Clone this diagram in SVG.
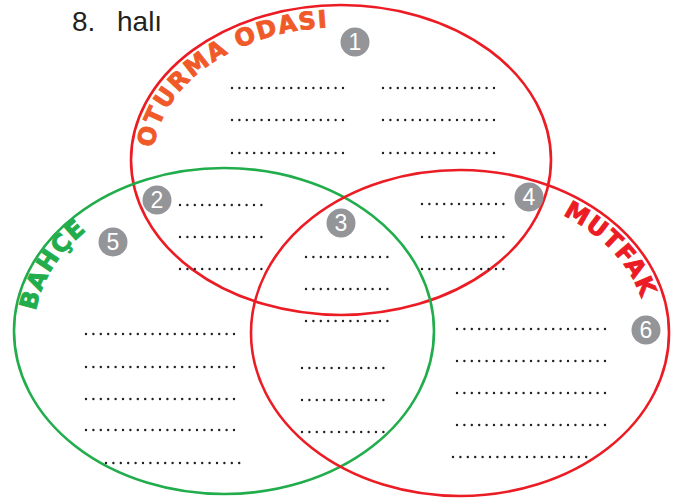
<svg xmlns="http://www.w3.org/2000/svg" width="680" height="501" viewBox="0 0 680 501">
<style>
.red{fill:none;stroke:#ec1c24;stroke-width:2.6}
.green{fill:none;stroke:#21ad4b;stroke-width:2.6}
.dots{stroke:#231f20;stroke-width:2.4;stroke-linecap:round;stroke-dasharray:0 7.4;fill:none}
.badge{fill:#939598}
.num{fill:#fff;font-family:"Liberation Sans",Arial,sans-serif;font-size:23px;text-anchor:middle}
.lbl{font-family:"DejaVu Sans","Liberation Sans",sans-serif;font-weight:bold;font-size:24px;stroke-width:0.9}
</style>
<defs>
<path id="pTop" d="M 153 160 A 188 133 0 0 1 529 160"/>
<path id="pLeft" d="M 34 331 A 190 145 0 0 1 414 331"/>
<path id="pRight" d="M 460 192 A 187 141 0 0 1 647 333"/>
</defs>
<rect width="680" height="501" fill="#fff"/>
<text x="72" y="31" font-family="Liberation Sans,Arial,sans-serif" font-size="28" fill="#231f20">8.</text>
<text x="117" y="31" font-family="Liberation Sans,Arial,sans-serif" font-size="28" fill="#231f20">halı</text>
<g id="sets">
<ellipse id="set-oturma" class="red" cx="341" cy="160" rx="210" ry="155"/>
<ellipse id="set-bahce" class="green" cx="224" cy="331" rx="210" ry="163"/>
<ellipse id="set-mutfak" class="red" cx="460" cy="333" rx="209" ry="163"/>
</g>
<g id="labels">
<text class="lbl" fill="#f05a28" stroke="#f05a28"><textPath href="#pTop" startOffset="12" textLength="228" lengthAdjust="spacing">OTURMA ODASI</textPath></text>
<text class="lbl" fill="#21ad4b" stroke="#21ad4b"><textPath href="#pLeft" startOffset="20" textLength="97" lengthAdjust="spacing">BAHÇE</textPath></text>
<text class="lbl" fill="#ec1c24" stroke="#ec1c24"><textPath href="#pRight" startOffset="106" textLength="117" lengthAdjust="spacing">MUTFAK</textPath></text>
</g>
<g id="region1">
<circle class="badge" cx="355" cy="42" r="14.5"/><text class="num" x="355" y="50">1</text>
<line class="dots" x1="232" y1="88" x2="345" y2="88"/>
<line class="dots" x1="232" y1="120" x2="345" y2="120"/>
<line class="dots" x1="232" y1="153" x2="345" y2="153"/>
<line class="dots" x1="383" y1="88" x2="497" y2="88"/>
<line class="dots" x1="383" y1="120" x2="497" y2="120"/>
<line class="dots" x1="383" y1="153" x2="497" y2="153"/>
</g>
<g id="region2">
<circle class="badge" cx="157" cy="200" r="14.5"/><text class="num" x="157" y="208">2</text>
<line class="dots" x1="180" y1="205" x2="264" y2="205"/>
<line class="dots" x1="180" y1="237" x2="264" y2="237"/>
<line class="dots" x1="180" y1="269" x2="264" y2="269"/>
</g>
<g id="region3">
<circle class="badge" cx="341" cy="223" r="14.5"/><text class="num" x="341" y="231">3</text>
<line class="dots" x1="306" y1="257" x2="389" y2="257"/>
<line class="dots" x1="306" y1="289" x2="389" y2="289"/>
<line class="dots" x1="306" y1="321" x2="389" y2="321"/>
<line class="dots" x1="302" y1="368" x2="385" y2="368"/>
<line class="dots" x1="302" y1="400" x2="385" y2="400"/>
<line class="dots" x1="302" y1="432" x2="385" y2="432"/>
</g>
<g id="region4">
<circle class="badge" cx="529" cy="197" r="14.5"/><text class="num" x="529" y="205">4</text>
<line class="dots" x1="422" y1="204" x2="506" y2="204"/>
<line class="dots" x1="422" y1="237" x2="506" y2="237"/>
<line class="dots" x1="422" y1="269" x2="506" y2="269"/>
</g>
<g id="region5">
<circle class="badge" cx="113" cy="242" r="14.5"/><text class="num" x="113" y="250">5</text>
<line class="dots" x1="86" y1="334" x2="235" y2="334"/>
<line class="dots" x1="86" y1="367" x2="235" y2="367"/>
<line class="dots" x1="86" y1="399" x2="235" y2="399"/>
<line class="dots" x1="86" y1="430" x2="235" y2="430"/>
<line class="dots" x1="106" y1="463" x2="240" y2="463"/>
</g>
<g id="region6">
<circle class="badge" cx="646" cy="330" r="14.5"/><text class="num" x="646" y="338">6</text>
<line class="dots" x1="457" y1="329" x2="607" y2="329"/>
<line class="dots" x1="457" y1="361" x2="607" y2="361"/>
<line class="dots" x1="457" y1="393" x2="607" y2="393"/>
<line class="dots" x1="457" y1="425" x2="607" y2="425"/>
<line class="dots" x1="453" y1="457" x2="588" y2="457"/>
</g>
</svg>
